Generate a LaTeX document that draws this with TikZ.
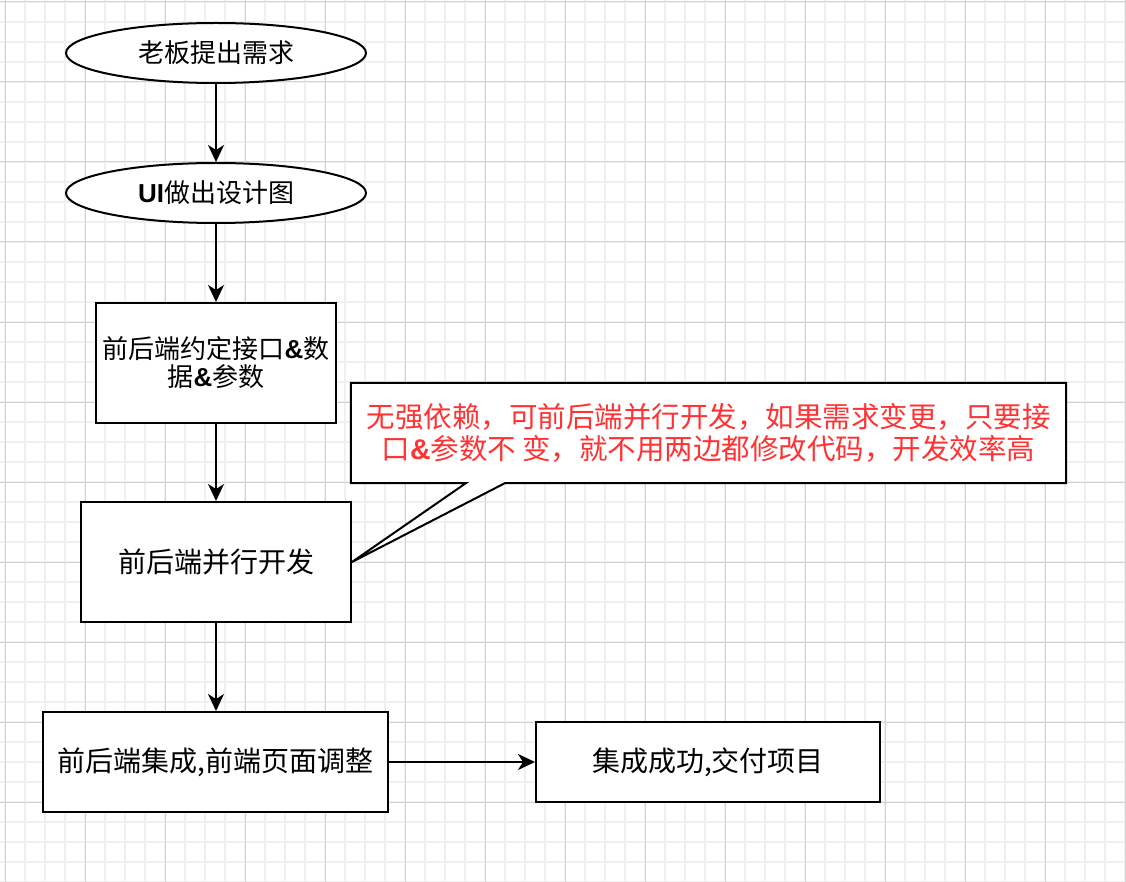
\documentclass[tikz,border=0pt]{standalone}
\usepackage{fontspec}
\usepackage{xcolor}
\usepackage{tikz}
\usetikzlibrary{shapes.geometric,arrows.meta}
\newfontfamily\cjk{Noto Sans CJK SC}
\newfontfamily\latinfont{Liberation Sans}
\newcommand{\bl}[1]{{\latinfont\bfseries #1}}
\definecolor{minorgrid}{HTML}{F0F0F0}
\definecolor{majorgrid}{HTML}{D2D2D2}
\definecolor{notered}{HTML}{FF3333}

\begin{document}
\begin{tikzpicture}[x=1pt,y=-1pt,
  flow/.style={draw, line width=2pt, fill=white, inner sep=0pt, align=center, font=\cjk\fontsize{26}{28}\selectfont},
  oval/.style={flow, ellipse, minimum width=300pt, minimum height=60pt},
  box/.style={flow, rectangle, font=\cjk\fontsize{28}{32}\selectfont},
  link/.style={line width=2pt, -{Stealth[length=17pt,width=16pt,inset=5pt]}}]
\useasboundingbox (0,0) rectangle (1126,882);
\fill[white] (0,0) rectangle (1126,882);
% grid
\foreach \gx in {5,25,...,1125} \draw[minorgrid, line width=1.5pt] (\gx,0) -- (\gx,882);
\foreach \gy in {2,22,...,882} \draw[minorgrid, line width=1.5pt] (0,\gy) -- (1126,\gy);
\foreach \gx in {5,85,...,1125} \draw[majorgrid, line width=1pt] (\gx,0) -- (\gx,882);
\foreach \gy in {2,82,...,882} \draw[majorgrid, line width=1pt] (0,\gy) -- (1126,\gy);

% flow nodes
\node[oval] (boss) at (216,53) {老板提出需求};
\node[oval] (ui) at (216,193) {\bl{UI}做出设计图};
\node[flow, minimum width=240pt, minimum height=120pt] (api) at (216,363) {前后端约定接口\bl{\&}数\\据\bl{\&}参数};
\node[box, minimum width=270pt, minimum height=120pt] (dev) at (216,562) {前后端并行开发};
\node[box, minimum width=345pt, minimum height=100pt] (join) at (215.5,762) {前后端集成,前端页面调整};
\node[box, minimum width=344pt, minimum height=80pt] (done) at (708,762) {集成成功,交付项目};

% callout
\node[minimum width=715pt, minimum height=100pt, inner sep=0pt] (note) at (708.5,433) {};
\draw[line width=2pt, fill=white] (note.north west) -- (note.north east) -- (note.south east)
  -- ([xshift=154pt]note.south west) -- (dev.east) -- ([xshift=115pt]note.south west)
  -- (note.south west) -- cycle;
\node[align=center, text=notered, font=\cjk\fontsize{28.5}{32}\selectfont] (notetext) at (note.center)
  {无强依赖，可前后端并行开发，如果需求变更，只要接\\口\bl{\&}参数不 变，就不用两边都修改代码，开发效率高};

% arrows
\draw[link] (boss) -- (ui);
\draw[link] (ui) -- (api);
\draw[link] (api) -- (dev);
\draw[link] (dev.south) -- (dev.south |- join.north);
\draw[link] (join) -- (done);
\end{tikzpicture}
\end{document}
